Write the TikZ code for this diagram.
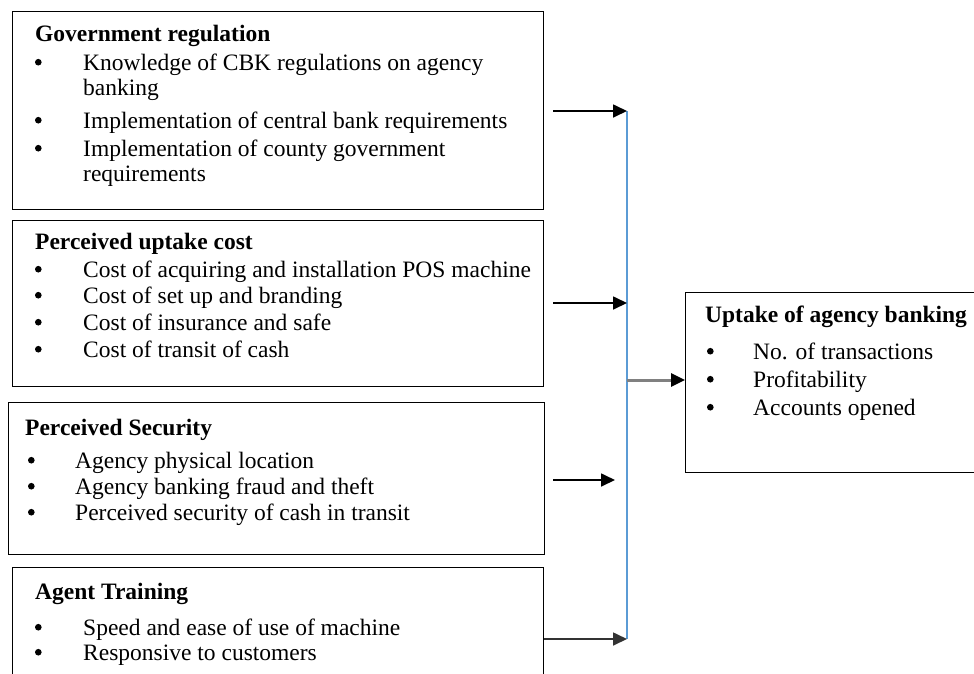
\documentclass[tikz,border=0pt]{standalone}
\usepackage{fontspec}
\setmainfont{Liberation Serif}
\newfontfamily\bulfont[FakeBold=4]{Liberation Serif}
\usetikzlibrary{arrows.meta}
\definecolor{linkblue}{RGB}{91,155,213}
\begin{document}
\begin{tikzpicture}[x=1pt,y=-1pt,
  box/.style={draw=black,line width=1.3pt,anchor=north west,inner sep=0pt},
  txt/.style={anchor=base west,inner sep=0pt,font=\fontsize{23.5}{26}\selectfont},
  ttl/.style={txt,font=\fontsize{23.5}{26}\selectfont\bfseries},
  bul/.style={anchor=base west,inner sep=0pt,font=\bulfont\fontsize{23.5}{26}\selectfont},
  arr/.style={line width=1.7pt,-{Triangle[length=14pt,width=13pt]}},
  garr/.style={draw=black!50,line width=3pt,-{Triangle[length=14pt,width=13pt,color=black]}}
]
\clip (0,0) rectangle (974,673);
\fill[white] (0,0) rectangle (974,673);
% boxes
\node[box,minimum width=531pt,minimum height=198pt] (b1) at (12,11) {};
\node[box,minimum width=531pt,minimum height=166pt] (b2) at (12,220) {};
\node[box,minimum width=536pt,minimum height=152pt] (b3) at (8,402) {};
\node[box,minimum width=531pt,minimum height=130pt] (b4) at (12,567) {};
\node[box,minimum width=320pt,minimum height=180pt] (b5) at (685,292) {};
% box 1
\node[ttl] (t1) at (35,41) {Government regulation};
\node[bul] (p11) at (34,70) {•}; \node[txt] (l11) at (83,70) {Knowledge of CBK regulations on agency};
\node[txt] (l12) at (83,95) {banking};
\node[bul] (p13) at (34,128) {•}; \node[txt] (l13) at (83,128) {Implementation of central bank requirements};
\node[bul] (p14) at (34,156) {•}; \node[txt] (l14) at (83,156) {Implementation of county government};
\node[txt] (l15) at (83,181) {requirements};
% box 2
\node[ttl] (t2) at (35,249) {Perceived uptake cost};
\node[bul] (p21) at (34,277) {•}; \node[txt] (l21) at (83,277) {Cost of acquiring and installation POS machine};
\node[bul] (p22) at (34,303) {•}; \node[txt] (l22) at (83,303) {Cost of set up and branding};
\node[bul] (p23) at (34,330) {•}; \node[txt] (l23) at (83,330) {Cost of insurance and safe};
\node[bul] (p24) at (34,357) {•}; \node[txt] (l24) at (83,357) {Cost of transit of cash};
% box 3
\node[ttl] (t3) at (25,435) {Perceived Security};
\node[bul] (p31) at (27,468) {•}; \node[txt] (l31) at (75,468) {Agency physical location};
\node[bul] (p32) at (27,494) {•}; \node[txt] (l32) at (75,494) {Agency banking fraud and theft};
\node[bul] (p33) at (27,520) {•}; \node[txt] (l33) at (75,520) {Perceived security of cash in transit};
% box 4
\node[ttl] (t4) at (35,599) {Agent Training};
\node[bul] (p41) at (34,635) {•}; \node[txt] (l41) at (83,635) {Speed and ease of use of machine};
\node[bul] (p42) at (34,660) {•}; \node[txt] (l42) at (83,660) {Responsive to customers};
% box 5
\node[ttl] (t5) at (705,322) {Uptake of agency banking};
\node[bul] (p51) at (706,359) {•}; \node[txt] (l51) at (753,359) {No. of transactions};
\node[bul] (p52) at (706,387) {•}; \node[txt] (l52) at (753,387) {Profitability};
\node[bul] (p53) at (706,415) {•}; \node[txt] (l53) at (753,415) {Accounts opened};
% connectors
\coordinate (s1) at (553,111); \coordinate (e1) at (627,111);
\coordinate (s2) at (553,303); \coordinate (e2) at (627,303);
\coordinate (s3) at (553,480); \coordinate (e3) at (615,480);
\coordinate (e4) at (627,639);
\coordinate (m) at (627,380);
\draw[draw=linkblue,line width=1.4pt] (e1) -- (e4);
\draw[arr] (s1) -- (e1);
\draw[arr] (s2) -- (e2);
\draw[arr] (s3) -- (e3);
\draw[arr,draw=black!80] (b4.east |- e4) -- (e4);
\draw[garr] (m) -- (b5.west |- m);
\end{tikzpicture}
\end{document}
